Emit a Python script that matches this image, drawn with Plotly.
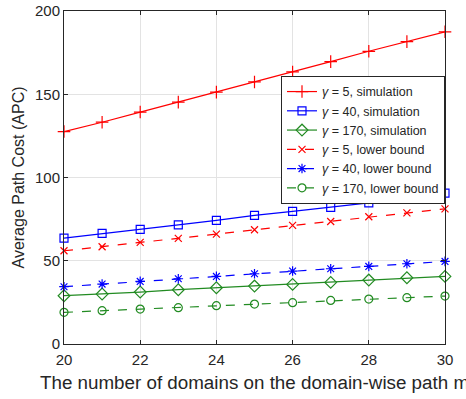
import plotly.graph_objects as go

# Number of domains on the domain-wise path
domains = [20, 21, 22, 23, 24, 25, 26, 27, 28, 29, 30]

# Average path cost, simulation results
sim_g5 = [127.6, 133.2, 139.3, 145.3, 151.3, 157.4, 163.4, 169.6, 175.8, 181.6, 187.5]
sim_g40 = [63.6, 66.4, 68.8, 71.6, 74.2, 77.2, 79.6, 82.0, 84.8, 88.0, 90.6]
sim_g170 = [29.0, 30.0, 31.2, 32.6, 33.8, 34.8, 35.8, 37.0, 38.4, 39.8, 40.6]

# Average path cost, lower bounds
lb_g5 = [56.0, 58.4, 61.0, 63.4, 66.0, 68.6, 71.2, 73.6, 76.4, 78.8, 81.2]
lb_g40 = [34.4, 36.0, 37.6, 39.2, 40.6, 42.2, 43.8, 45.2, 46.6, 48.2, 49.6]
lb_g170 = [19.0, 20.0, 21.0, 21.8, 23.0, 24.0, 24.8, 26.2, 27.0, 27.8, 28.8]

x_ticks = [20, 22, 24, 26, 28, 30]
y_ticks = [0, 50, 100, 150, 200]

RED = "#ff0000"
BLUE = "#0000ff"
GREEN = "#228b22"

series = [
    ("<i>γ</i> = 5, simulation", sim_g5, RED, "solid", "cross-thin-open", 9),
    ("<i>γ</i> = 40, simulation", sim_g40, BLUE, "solid", "square-open", 8),
    ("<i>γ</i> = 170, simulation", sim_g170, GREEN, "solid", "diamond-open", 9),
    ("<i>γ</i> = 5, lower bound", lb_g5, RED, "dash", "x-thin-open", 7),
    ("<i>γ</i> = 40, lower bound", lb_g40, BLUE, "dash", "asterisk-open", 8),
    ("<i>γ</i> = 170, lower bound", lb_g170, GREEN, "dash", "circle-open", 8),
]

fig = go.Figure()
for name, ys, color, dash, symbol, size in series:
    fig.add_trace(go.Scatter(
        x=domains, y=ys, name=name, mode="lines+markers",
        line=dict(color=color, width=1.2, dash=dash),
        marker=dict(symbol=symbol, size=size, color=color,
                    line=dict(color=color, width=1.2)),
        cliponaxis=False,
    ))

axis_common = dict(
    showgrid=True, gridcolor="#e3e3e3", gridwidth=1,
    showline=True, linecolor="#262626", linewidth=1, mirror="ticks",
    ticks="inside", ticklen=4, tickcolor="#262626",
    tickfont=dict(family="Liberation Sans, Arial, sans-serif", size=15, color="#262626"),
    zeroline=False, automargin=False,
)

fig.update_layout(
    width=466, height=399,
    margin=dict(l=64, r=21, t=11, b=55),
    paper_bgcolor="white", plot_bgcolor="white",
    font=dict(family="Liberation Sans, Arial, sans-serif", color="#262626"),
    xaxis=dict(range=[20, 30], tickvals=x_ticks, ticklabelstandoff=2,
               title=dict(text="The number of domains on the domain-wise path m",
                          font=dict(size=18.8), standoff=8),
               **axis_common),
    yaxis=dict(range=[0, 200], tickvals=y_ticks,
               title=dict(text="Average Path Cost (APC)", font=dict(size=16), standoff=6),
               **axis_common),
    legend=dict(
        x=1, y=0.805, xanchor="right", yanchor="top",
        bgcolor="white", bordercolor="#262626", borderwidth=1,
        font=dict(size=12.5, color="#262626"),
        tracegroupgap=0, itemwidth=30,
    ),
)

fig.write_html("out.html")
